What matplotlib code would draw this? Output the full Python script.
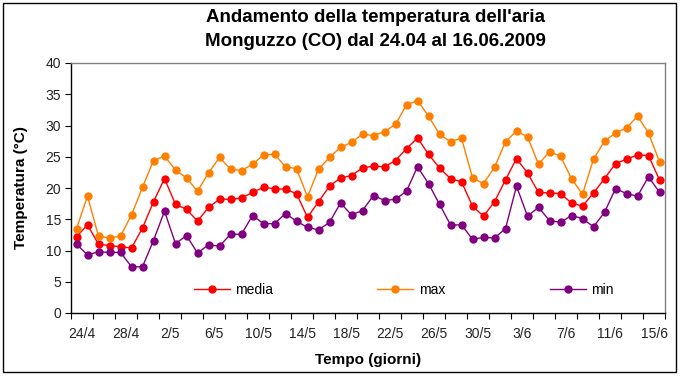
import matplotlib
matplotlib.use("Agg")
import matplotlib.pyplot as plt
from matplotlib.patches import Rectangle
import datetime as dt

# Daily air temperatures, Monguzzo (CO), 24 April - 16 June 2009
start = dt.date(2009, 4, 24)
n_days = 54
days = [start + dt.timedelta(days=i) for i in range(n_days)]

t_media = [12.2, 14.1, 11.0, 10.8, 10.6, 10.4, 13.6, 17.8, 21.5, 17.4,
           16.6, 14.7, 16.9, 18.2, 18.2, 18.4, 19.3, 20.1, 19.9, 19.8,
           19.1, 15.3, 17.8, 20.3, 21.6, 22.0, 23.2, 23.5, 23.4, 24.4,
           26.3, 28.0, 25.4, 23.2, 21.5, 21.0, 17.1, 15.5, 17.8, 21.3,
           24.7, 22.4, 19.3, 19.2, 19.1, 17.6, 17.1, 19.2, 21.5, 23.9,
           24.6, 25.3, 25.2, 21.3]
t_max = [13.5, 18.7, 12.3, 12.0, 12.3, 15.7, 20.1, 24.4, 25.1, 22.9,
         21.6, 19.5, 22.4, 24.9, 23.0, 22.8, 23.8, 25.3, 25.4, 23.4,
         23.1, 18.6, 23.0, 24.9, 26.5, 27.3, 28.6, 28.4, 29.0, 30.2,
         33.3, 34.0, 31.5, 28.6, 27.4, 28.0, 21.6, 20.7, 23.3, 27.4,
         29.1, 28.2, 23.8, 25.8, 25.1, 21.5, 19.0, 24.6, 27.5, 28.8,
         29.6, 31.5, 28.8, 24.2]
t_min = [11.0, 9.3, 9.8, 9.7, 9.7, 7.4, 7.4, 11.6, 16.3, 11.1,
         12.4, 9.6, 10.9, 10.7, 12.6, 12.6, 15.6, 14.3, 14.3, 15.9,
         14.7, 13.7, 13.3, 14.5, 17.6, 15.7, 16.4, 18.8, 18.0, 18.2,
         19.5, 23.4, 20.7, 17.4, 14.1, 14.1, 11.8, 12.1, 12.0, 13.5,
         20.3, 15.5, 16.9, 14.8, 14.5, 15.6, 15.1, 13.8, 16.1, 19.9,
         19.1, 18.7, 21.8, 19.3]

series_names = ["media", "max", "min"]
series_colors = ["#FF0000", "#FF7F00", "#800080"]

day_labels = [f"{d.day}/{d.month}" for d in days]
label_step = 4
tick_step = 2

fig = plt.figure(figsize=(6.8, 3.76), dpi=100)
fig.patch.set_facecolor("white")

# outer chart frame
fig.patches.append(Rectangle((3 / 680, 4 / 376), 673 / 680, 369 / 376,
                             transform=fig.transFigure, fill=False,
                             edgecolor="black", linewidth=1.0))

ax = fig.add_axes([71 / 680, (376 - 313) / 376, 594 / 680, 250 / 376])

x = list(range(n_days))
for vals, name, col in zip([t_media, t_max, t_min], series_names, series_colors):
    ax.plot(x, vals, color=col, linewidth=1.0, marker="o", markersize=6,
            markeredgewidth=0, label=name, clip_on=False)

ax.set_xlim(-0.5, n_days - 0.5)
ax.set_ylim(0, 40)
ax.set_yticks(range(0, 41, 5))

# tick marks every two days, labels every four days centred between ticks
ax.set_xticks([i - 0.5 for i in range(0, n_days + 1, tick_step)])
ax.set_xticklabels([])
ax.set_xticks([i + 0.5 for i in range(0, n_days, label_step)], minor=True)
ax.set_xticklabels([day_labels[i] for i in range(0, n_days, label_step)],
                   minor=True)
ax.tick_params(axis="x", which="minor", length=0, pad=10)
ax.tick_params(axis="x", which="major", direction="out", length=4, width=0.8)
ax.tick_params(axis="y", direction="out", length=4, width=0.8, pad=3)

for lab in ax.get_xticklabels(minor=True) + ax.get_yticklabels():
    lab.set_fontfamily("Liberation Sans")
    lab.set_fontsize(10)
    lab.set_color("#222222")

for side in ["left", "bottom"]:
    ax.spines[side].set_color("black")
    ax.spines[side].set_linewidth(1.0)
for side in ["top", "right"]:
    ax.spines[side].set_color("#808080")
    ax.spines[side].set_linewidth(1.0)

ax.set_xlabel("Tempo (giorni)", fontfamily="Liberation Sans",
              fontweight="bold", fontsize=11, labelpad=9)
ax.set_ylabel("Temperatura (°C)", fontfamily="Liberation Sans",
              fontweight="bold", fontsize=11, labelpad=13)

fig.text(375 / 680, 1 - 18 / 376, "Andamento della temperatura dell'aria",
         ha="center", va="center", fontfamily="Liberation Sans",
         fontweight="bold", fontsize=13.5)
fig.text(375 / 680, 1 - 42 / 376, "Monguzzo (CO) dal 24.04 al 16.06.2009",
         ha="center", va="center", fontfamily="Liberation Sans",
         fontweight="bold", fontsize=13.5)

leg = ax.legend(loc="center", bbox_to_anchor=(0.56, 0.092), ncol=3,
                frameon=False, handlelength=2.6, columnspacing=7.5,
                handletextpad=0.4, prop={"family": "Liberation Sans", "size": 10})

fig.savefig("out.png", dpi=100)
